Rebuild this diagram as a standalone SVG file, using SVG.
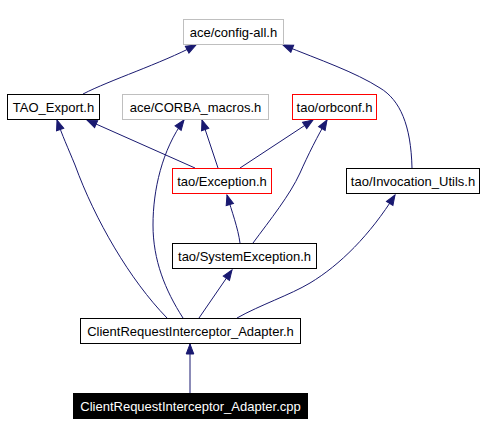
<svg xmlns="http://www.w3.org/2000/svg" width="486" height="435" viewBox="0 0 486 435">
<defs>
<marker id="ah" markerUnits="userSpaceOnUse" markerWidth="12" markerHeight="10" viewBox="-1 -5 12 10" refX="10" refY="0" orient="auto">
<polygon points="0,-3.8 10,0 0,3.8" fill="#191970" stroke="#191970" stroke-width="1"/>
</marker>
<style>
.n rect{fill:#fff;stroke:#000;stroke-width:1}
.n text{font-family:"Liberation Sans",Arial,sans-serif;font-size:13px;text-anchor:middle;fill:#000}
.g rect{stroke:#bfbfbf}
.r rect{stroke:#ff0000}
.b rect{fill:#000;stroke:#000}
.b text{fill:#fff}
#edges path{fill:none;stroke:#191970;stroke-width:1;marker-end:url(#ah)}
</style>
</defs>
<rect width="486" height="435" fill="#fff"/>
<g id="edges">
<path d="M83,94 C110,80 160,64 196,45"/>
<path d="M412,168 C411,125 400,100 380,88 C355,72 320,60 283,45"/>
<path d="M195,168 L87,120"/>
<path d="M218,168 L202,120"/>
<path d="M240,168 L313,120"/>
<path d="M240,243 C238,228 232,212 227,195"/>
<path d="M253,243 C270,220 290,195 300,173 C308,155 318,135 327,120"/>
<path d="M167,318 C130,280 95,220 75,165 C68,148 62,135 57,120"/>
<path d="M183,318 C165,290 153,260 153,225 C153,190 162,150 184,120"/>
<path d="M199,318 L232,270"/>
<path d="M237,318 C260,305 290,295 310,283 C340,265 370,235 395,195"/>
<path d="M190,393 L190,344"/>
</g>
<g id="config-all" class="n g"><rect x="183.5" y="19.5" width="100" height="25"/><text x="233.5" y="37">ace/config-all.h</text></g>
<g id="TAO_Export" class="n"><rect x="7.5" y="94.5" width="92" height="25"/><text x="53.5" y="112">TAO_Export.h</text></g>
<g id="CORBA_macros" class="n g"><rect x="122.5" y="94.5" width="146" height="25"/><text x="195.5" y="112">ace/CORBA_macros.h</text></g>
<g id="orbconf" class="n r"><rect x="292.5" y="94.5" width="84" height="25"/><text x="334.5" y="112">tao/orbconf.h</text></g>
<g id="Exception" class="n r"><rect x="172.5" y="168.5" width="99" height="25"/><text x="222" y="186">tao/Exception.h</text></g>
<g id="Invocation_Utils" class="n"><rect x="346.5" y="168.5" width="133" height="25"/><text x="413" y="186">tao/Invocation_Utils.h</text></g>
<g id="SystemException" class="n"><rect x="172.5" y="243.5" width="144" height="25"/><text x="244.5" y="261">tao/SystemException.h</text></g>
<g id="Adapter_h" class="n"><rect x="80.5" y="318.5" width="220" height="25"/><text x="190.5" y="336">ClientRequestInterceptor_Adapter.h</text></g>
<g id="Adapter_cpp" class="n b"><rect x="73.5" y="393.5" width="234" height="25"/><text x="190.5" y="411">ClientRequestInterceptor_Adapter.cpp</text></g>
</svg>
